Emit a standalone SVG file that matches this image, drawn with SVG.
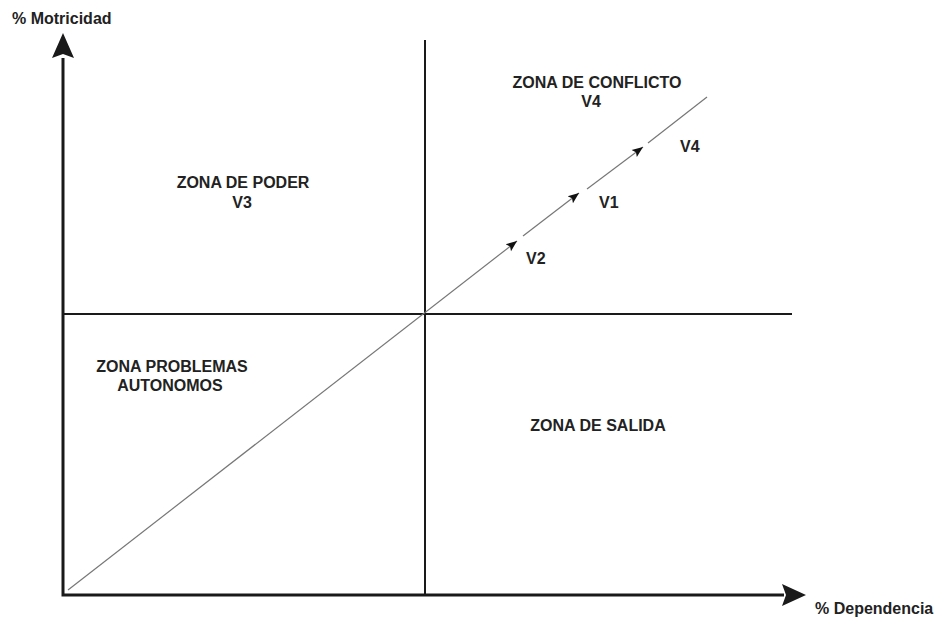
<svg xmlns="http://www.w3.org/2000/svg" width="941" height="618" viewBox="0 0 941 618">
<style>
text{font-family:"Liberation Sans",Arial,sans-serif;font-weight:bold;font-size:16px;fill:#222}
.c{text-anchor:middle}
.ax{stroke:#1a1a1a;stroke-width:3;fill:none}
.q{stroke:#1a1a1a;stroke-width:2;fill:none}
.d{stroke:#777;stroke-width:1.2;fill:none}
</style>
<defs>
<marker id="ah" viewBox="0 0 10 10" refX="10" refY="5" markerWidth="11" markerHeight="11" markerUnits="userSpaceOnUse" orient="auto">
<path d="M0,1 L10,5 L0,9 L2,5 Z" fill="#111"/>
</marker>
</defs>
<rect width="941" height="618" fill="#fff"/>
<g id="axes">
<path class="ax" d="M63,58 V595 H784"/>
<path d="M63,33 L52,58 L63,54 L74,58 Z" fill="#1a1a1a"/>
<path d="M806,595 L782,584 L786,595 L782,606 Z" fill="#1a1a1a"/>
</g>
<g id="connectors">
<path class="q" d="M425,40 V595"/>
<path class="q" d="M63,314 H792"/>
<path class="d" d="M68,590 L517,241" marker-end="url(#ah)"/>
<path class="d" d="M523,236 L579,193" marker-end="url(#ah)"/>
<path class="d" d="M587,189 L643,147" marker-end="url(#ah)"/>
<path class="d" d="M648,143 L707,97"/>
</g>
<g id="labels">
<text x="12" y="24">% Motricidad</text>
<text x="815" y="614">% Dependencia</text>
</g>
<g id="zona-poder"><text class="c" x="243" y="188">ZONA DE PODER</text><text class="c" x="242" y="208">V3</text></g>
<g id="zona-conflicto"><text class="c" x="597" y="88">ZONA DE CONFLICTO</text><text class="c" x="591" y="107">V4</text></g>
<g id="v4"><text x="680" y="152">V4</text></g>
<g id="v1"><text x="599" y="208">V1</text></g>
<g id="v2"><text x="526" y="264">V2</text></g>
<g id="zona-autonomos"><text class="c" x="172" y="372">ZONA PROBLEMAS</text><text class="c" x="170" y="391">AUTONOMOS</text></g>
<g id="zona-salida"><text class="c" x="598" y="431">ZONA DE SALIDA</text></g>
</svg>
